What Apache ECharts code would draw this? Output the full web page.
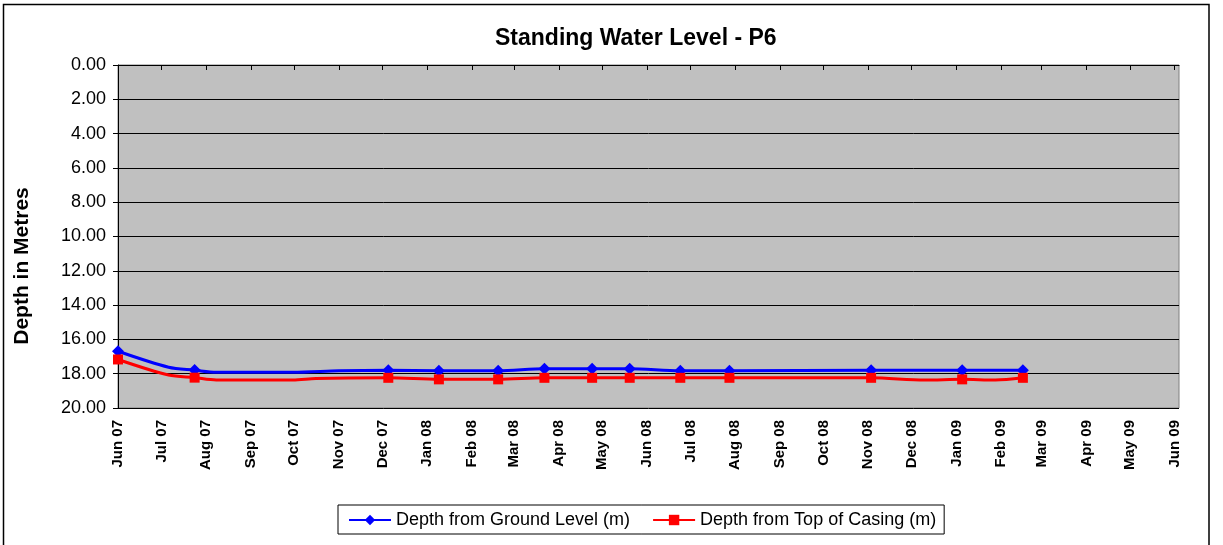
<!DOCTYPE html>
<html>
<head>
<meta charset="utf-8">
<title>Standing Water Level - P6</title>
<script src="https://cdn.jsdelivr.net/npm/echarts@6/dist/echarts.min.js"></script>
<style>
  html, body { margin: 0; padding: 0; background: #fff; }
  #main { width: 1223px; height: 545px; }
</style>
</head>
<body>
<div id="main"></div>
<script>
// readings taken off the chart (depth in metres, larger = deeper)
var groundDates = ['2007-06-01', '2007-07-06', '2007-07-24', '2007-08-08', '2007-09-30', '2007-11-01',
    '2007-12-05', '2008-01-09', '2008-02-19', '2008-03-22', '2008-04-24', '2008-05-20',
    '2008-06-24', '2008-07-28', '2008-11-03', '2009-01-05', '2009-02-16'];
var groundLevel = [16.69, 17.62, 17.79, 17.92, 17.92, 17.83,
    17.80, 17.83, 17.83, 17.71, 17.71, 17.71,
    17.83, 17.83, 17.80, 17.80, 17.80];
var groundMarked = [1, 0, 1, 0, 0, 0, 1, 1, 1, 1, 1, 1, 1, 1, 1, 1, 1];

var casingDates = ['2007-06-01', '2007-07-06', '2007-07-24', '2007-08-08', '2007-09-30', '2007-10-16',
    '2007-12-05', '2008-01-09', '2008-02-19', '2008-03-22', '2008-04-24', '2008-05-20',
    '2008-06-24', '2008-07-28', '2008-11-03', '2008-12-10', '2009-01-05', '2009-01-28', '2009-02-16'];
var topOfCasing = [17.17, 18.08, 18.23, 18.37, 18.37, 18.28,
    18.24, 18.33, 18.33, 18.24, 18.24, 18.24,
    18.24, 18.24, 18.24, 18.37, 18.33, 18.37, 18.24];
var casingMarked = [1, 0, 1, 0, 0, 0, 1, 1, 1, 1, 1, 1, 1, 1, 1, 0, 1, 0, 1];

var seriesNames = ['Depth from Ground Level (m)', 'Depth from Top of Casing (m)'];
var monthNames = ['Jan', 'Feb', 'Mar', 'Apr', 'May', 'Jun', 'Jul', 'Aug', 'Sep', 'Oct', 'Nov', 'Dec'];

function buildPoints(dates, values, marked) {
    return dates.map(function (d, i) {
        var p = { value: [d, values[i]] };
        if (!marked[i]) p.symbol = 'none';
        return p;
    });
}

var myChart = echarts.init(document.getElementById('main'));

var option = {
    backgroundColor: '#fff',
    animation: false,
    title: {
        text: 'Standing Water Level - P6',
        left: 490,
        top: 22,
        textStyle: { fontFamily: 'Liberation Sans', fontSize: 23, fontWeight: 'bold', color: '#000' }
    },
    legend: {
        data: seriesNames,
        left: 338,
        top: 505,
        padding: [6, 8, 5, 10],
        itemWidth: 42,
        itemHeight: 13,
        itemGap: 22,
        borderColor: '#000',
        borderWidth: 1,
        backgroundColor: '#fff',
        textStyle: { fontFamily: 'Liberation Sans', fontSize: 18, color: '#000' }
    },
    graphic: [
        {
            type: 'rect',
            shape: { x: 3.5, y: 4.5, width: 1205.5, height: 545 },
            style: { fill: null, stroke: '#000', lineWidth: 1.5 },
            silent: true
        },
        {
            type: 'text',
            x: 22,
            y: 266,
            rotation: Math.PI / 2,
            style: {
                text: 'Depth in Metres',
                fontFamily: 'Liberation Sans',
                fontSize: 21,
                fontWeight: 'bold',
                fill: '#000',
                textAlign: 'center',
                textVerticalAlign: 'middle'
            }
        }
    ],
    grid: {
        left: 118,
        top: 65,
        right: 44,
        bottom: 137,
        show: true,
        backgroundColor: '#C0C0C0',
        borderColor: '#808080',
        borderWidth: 1
    },
    xAxis: {
        type: 'time',
        min: '2007-06-01',
        max: '2009-06-04',
        splitNumber: 24,
        minInterval: 28 * 24 * 3600 * 1000,
        maxInterval: 31 * 24 * 3600 * 1000,
        axisLine: { lineStyle: { color: '#000', width: 1 } },
        axisTick: { show: true, length: 5, lineStyle: { color: '#000' } },
        splitLine: { show: false },
        axisLabel: {
            rotate: 90,
            margin: 12,
            hideOverlap: false,
            fontFamily: 'Liberation Sans',
            fontSize: 15,
            fontWeight: 'bold',
            color: '#000',
            formatter: function (val) {
                var d = new Date(val);
                return monthNames[d.getMonth()] + ' ' + String(d.getFullYear()).slice(2);
            }
        }
    },
    yAxis: {
        type: 'value',
        inverse: true,
        min: 0,
        max: 20,
        interval: 2,
        axisLine: { show: true, lineStyle: { color: '#000', width: 1 } },
        axisTick: { show: true, length: 5, lineStyle: { color: '#000' } },
        splitLine: { show: true, showMinLine: false, lineStyle: { color: '#000', width: 1 } },
        axisLabel: {
            margin: 12,
            fontFamily: 'Liberation Sans',
            fontSize: 18,
            color: '#000',
            formatter: function (v) { return v.toFixed(2); }
        }
    },
    series: [
        {
            name: seriesNames[0],
            type: 'line',
            smooth: 0.3,
            symbol: 'diamond',
            symbolSize: 12,
            lineStyle: { color: '#0000FF', width: 3 },
            itemStyle: { color: '#0000FF' },
            data: buildPoints(groundDates, groundLevel, groundMarked)
        },
        {
            name: seriesNames[1],
            type: 'line',
            smooth: 0.3,
            symbol: 'rect',
            symbolSize: 10,
            lineStyle: { color: '#FF0000', width: 3 },
            itemStyle: { color: '#FF0000' },
            data: buildPoints(casingDates, topOfCasing, casingMarked)
        }
    ]
};
myChart.setOption(option);
</script>
</body>
</html>
